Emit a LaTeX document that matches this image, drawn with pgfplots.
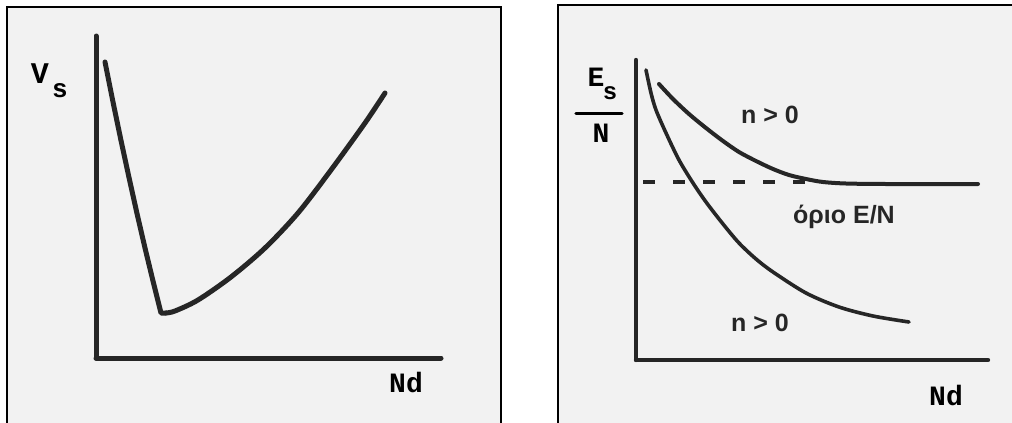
\documentclass[border=0pt]{standalone}
\usepackage{fontspec}
\setmainfont{Liberation Sans}
\newfontfamily\monob{Liberation Mono}[BoldFont={Liberation Mono Bold}]
\usepackage{pgfplots}
\pgfplotsset{compat=1.18}
\begin{document}
\begin{tikzpicture}
\begin{scope}[x=0.5pt,y=-0.5pt]
\path[use as bounding box] (0,0) rectangle (1012,423);
\begin{scope}
\clip (0,0) rectangle (1012,423);
\fill[white] (0,0) rectangle (1012,423);
\fill[black!5] (7,7) rectangle (501,440);
\fill[black!5] (558,5) rectangle (1030,440);
\draw[line width=1.2pt] (7,440) -- (7,7) -- (501,7) -- (501,440);
\draw[line width=1.2pt] (558,440) -- (558,5) -- (1030,5);
\end{scope}
% labels
\node[font=\monob\bfseries\fontsize{15}{15}\selectfont] at (40,74) {V};
\node[font=\monob\bfseries\fontsize{13}{13}\selectfont] at (60,91) {s};
\node[font=\monob\bfseries\fontsize{14}{14}\selectfont] at (406,382) {Nd};
\node[font=\monob\bfseries\fontsize{14}{14}\selectfont] at (596,77) {E};
\node[font=\monob\bfseries\fontsize{12}{12}\selectfont] at (610,93) {s};
\draw[line width=1.6pt,line cap=round] (576,113.5) -- (622,113.5);
\node[font=\monob\bfseries\fontsize{14}{14}\selectfont] at (601,133) {N};
\node[font=\monob\bfseries\fontsize{14}{14}\selectfont] at (946,395) {Nd};
\node[font=\bfseries\fontsize{12.5}{12.5}\selectfont, text=black!85] at (770,115) {n > 0};
\node[font=\bfseries\fontsize{12.5}{12.5}\selectfont, text=black!85] at (760,323) {n > 0};
\node[font=\bfseries\fontsize{12.5}{12.5}\selectfont, text=black!85] at (844,217) {όριο E/N};
\end{scope}

% left panel
\begin{axis}[at={(48pt,-179pt)}, anchor=south west,
  x=0.5pt, y=0.5pt, xmin=0, xmax=345, ymin=0, ymax=322,
  axis x line=bottom, axis y line=left,
  axis line style={-, line width=2.5pt, line cap=round, color=black!85},
  xtick=\empty, ytick=\empty, clip=false]
\addplot[line width=2.5pt, color=black!85, line cap=round, line join=round] coordinates {
(9,296) (17,256) (25,217.5) (33,180.5) (41,144.5) (49,110) (57,77) (65,45) (70,45)};
\addplot[line width=2.5pt, color=black!85, line cap=round, smooth] coordinates {
(70,45) (79,47) (102,58) (135,81) (169,110) (202,145) (235,188) (269,235) (289,265)};
\end{axis}

% right panel
\begin{axis}[at={(318pt,-180pt)}, anchor=south west,
  x=0.5pt, y=0.5pt, xmin=0, xmax=352, ymin=0, ymax=300,
  axis x line=bottom, axis y line=left,
  axis line style={-, line width=2.2pt, line cap=round, color=black!85},
  xtick=\empty, ytick=\empty, clip=false]
\addplot[line width=2pt, color=black!85, line cap=round, smooth] coordinates {
(23,276) (37,261) (53,246) (70,232) (87,219) (103,208) (120,199) (137,191) (153,185) (170,181) (187,178) (210,176.5) (250,176) (342,176)};
\addplot[line width=1.8pt, color=black!85, line cap=round, smooth] coordinates {
(10,290) (15,267) (20,250) (30,227) (43,200) (57,177) (70,158) (87,136) (103,117) (120,101) (137,88) (170,67) (203,53) (237,44) (273,38)};
\addplot[line width=1.6pt, color=black!85, dash pattern=on 6pt off 9pt] coordinates {(7,178) (187,178)};
\end{axis}
\end{tikzpicture}
\end{document}
